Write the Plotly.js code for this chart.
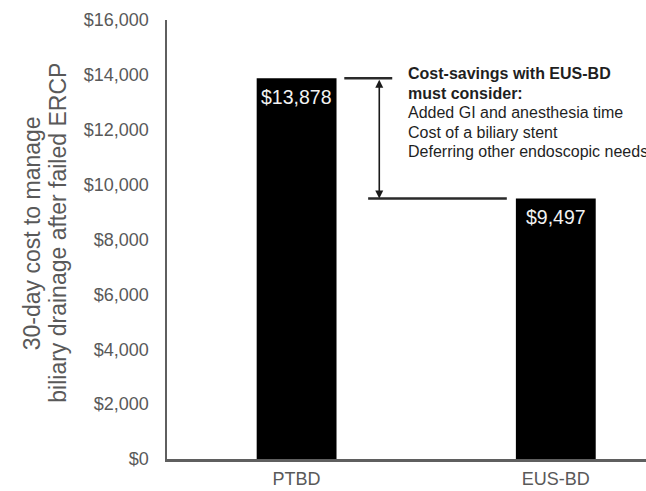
<!DOCTYPE html>
<html>
<head>
<meta charset="utf-8">
<script src="https://cdn.plot.ly/plotly-3.0.1.min.js"></script>
<style>
  html, body { margin: 0; padding: 0; background: #ffffff; }
  #chart { width: 646px; height: 491px; }
</style>
</head>
<body>
<div id="chart"></div>
<script>
// 30-day cost of biliary drainage after failed ERCP
const categories = ['PTBD', 'EUS-BD'];
const costs = [13878, 9497];
const yTicks = [0, 2000, 4000, 6000, 8000, 10000, 12000, 14000, 16000];
const noteLines = [
  '<b>Cost-savings with EUS-BD</b>',
  '<b>must consider:</b>',
  'Added GI and anesthesia time',
  'Cost of a biliary stent',
  'Deferring other endoscopic needs'
];
const yTitleLines = ['30-day cost to manage', 'biliary drainage after failed ERCP'];

const FONT = 'Liberation Sans, Arial, Helvetica, sans-serif';
const AXIS_GREY = '#5f5f5f';
const TEXT_GREY = '#595959';

const fmt = v => '$' + v.toLocaleString('en-US');

const trace = {
  type: 'bar',
  x: categories,
  y: costs,
  width: 0.308,
  marker: { color: '#000000', line: { width: 0 } },
  hoverinfo: 'skip',
  showlegend: false
};

// value labels just inside the top of each bar
const valueLabels = categories.map((c, i) => ({
  x: c, y: costs[i], xref: 'x', yref: 'y',
  text: fmt(costs[i]),
  showarrow: false,
  yanchor: 'middle',
  yshift: -19,
  font: { family: FONT, size: 19.5, color: '#f2f2f2' }
}));

// bracket showing the cost difference between the two approaches
const diffX = 0.319;
const diffArrow = {
  x: diffX, y: costs[1], xref: 'x', yref: 'y',
  ax: diffX, ay: costs[0], axref: 'x', ayref: 'y',
  text: '',
  showarrow: true,
  arrowhead: 2, startarrowhead: 2,
  arrowside: 'end+start',
  arrowsize: 1, startarrowsize: 1,
  arrowwidth: 1.6,
  arrowcolor: '#1a1a1a',
  standoff: 0, startstandoff: 0
};

const bracketShapes = [
  { type: 'line', xref: 'x', yref: 'y', x0: 0.184, x1: 0.369, y0: costs[0], y1: costs[0],
    line: { color: '#2a2a2a', width: 2.5 } },
  { type: 'line', xref: 'x', yref: 'y', x0: 0.276, x1: 0.811, y0: costs[1], y1: costs[1],
    line: { color: '#2a2a2a', width: 2.5 } }
];

// explanatory note, one annotation per line for tight line spacing
const noteTop = 0.878, noteStep = 0.0446;
const noteAnnotations = noteLines.map((t, i) => ({
  x: 0.423, xref: 'x', xanchor: 'left',
  y: noteTop - i * noteStep, yref: 'paper', yanchor: 'middle',
  text: t, showarrow: false, align: 'left',
  font: { family: FONT, size: 16, color: '#1f1f1f' }
}));

// two-line rotated y-axis title
const titleXs = [-0.281, -0.228];
const titleAnnotations = yTitleLines.map((t, i) => ({
  x: titleXs[i], xref: 'paper', xanchor: 'center',
  y: 0.515, yref: 'paper', yanchor: 'middle',
  text: t, textangle: -90, showarrow: false,
  font: { family: FONT, size: 23, color: TEXT_GREY }
}));

const layout = {
  width: 646,
  height: 491,
  margin: { l: 167, r: 0, t: 20, b: 32, pad: 0 },
  paper_bgcolor: '#ffffff',
  plot_bgcolor: '#ffffff',
  showlegend: false,
  font: { family: FONT, color: TEXT_GREY },
  xaxis: {
    type: 'category',
    range: [-0.5, 1.348],
    showgrid: false,
    zeroline: false,
    showline: true,
    linecolor: AXIS_GREY,
    linewidth: 2.5,
    ticks: '',
    ticklabelstandoff: 2,
    tickfont: { family: FONT, size: 18, color: TEXT_GREY },
    fixedrange: true
  },
  yaxis: {
    range: [0, 16000],
    tickvals: yTicks,
    ticktext: yTicks.map(fmt),
    showgrid: false,
    zeroline: false,
    showline: true,
    linecolor: AXIS_GREY,
    linewidth: 2.5,
    ticks: '',
    ticklabelstandoff: 12,
    tickfont: { family: FONT, size: 18, color: TEXT_GREY },
    fixedrange: true
  },
  shapes: bracketShapes,
  annotations: [...valueLabels, diffArrow, ...noteAnnotations, ...titleAnnotations]
};

Plotly.newPlot('chart', [trace], layout, { displayModeBar: false, staticPlot: true });
</script>
</body>
</html>
